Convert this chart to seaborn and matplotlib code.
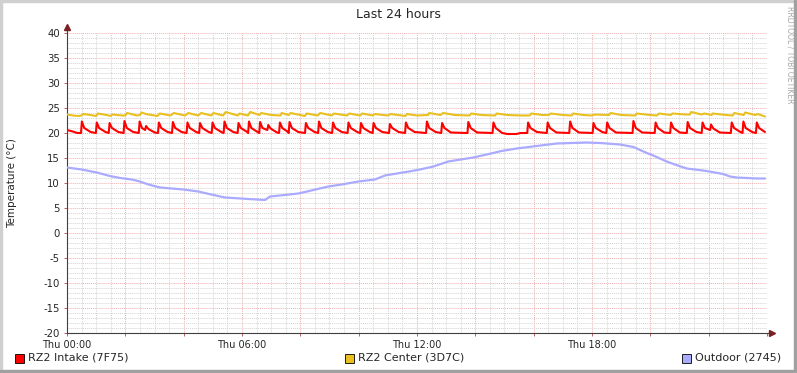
import matplotlib
matplotlib.use('Agg')
import matplotlib.pyplot as plt
import matplotlib.ticker as ticker
from matplotlib.patches import Rectangle
import pandas as pd
import seaborn as sns

# Values (hours since Thu 00:00, degrees C)
intake_hours = [0.00, 0.20, 0.35,
                0.48, 0.51, 0.59, 0.81, 0.99, 1.02, 1.10, 1.32, 1.43, 1.46, 1.54, 1.76,
                1.94, 1.97, 2.05, 2.27, 2.46, 2.49, 2.57, 2.68, 2.71, 2.79, 3.01,
                3.12, 3.15, 3.23, 3.45, 3.60, 3.63, 3.71, 3.93, 4.10, 4.13, 4.21, 4.43,
                4.53, 4.56, 4.64, 4.86, 4.96, 4.99, 5.07, 5.29, 5.37, 5.40, 5.48, 5.70,
                5.85, 5.88, 5.96, 6.18, 6.21, 6.24, 6.32, 6.54, 6.59, 6.62, 6.70, 6.87,
                6.90, 6.98, 7.20, 7.27, 7.30, 7.38, 7.58, 7.60, 7.63, 7.71, 7.93,
                8.16, 8.19, 8.27, 8.49, 8.61, 8.64, 8.72, 8.94, 9.09, 9.12, 9.20, 9.42,
                9.62, 9.65, 9.73, 9.95, 10.05, 10.08, 10.16, 10.38, 10.48, 10.51, 10.59, 10.81,
                11.04, 11.07, 11.15, 11.37, 11.59, 11.62, 11.70, 11.92,
                12.31, 12.34, 12.42, 12.64, 12.83, 12.86, 12.94, 13.16,
                13.73, 13.76, 13.84, 14.06, 14.59, 14.62, 14.70, 14.92, 15.10, 15.40, 15.55,
                15.78, 15.81, 15.89, 16.11, 16.45, 16.48, 16.56, 16.78,
                17.22, 17.25, 17.33, 17.55, 18.02, 18.05, 18.13, 18.35,
                18.49, 18.52, 18.60, 18.82, 19.39, 19.42, 19.50, 19.72,
                20.15, 20.18, 20.26, 20.48, 20.68, 20.71, 20.79, 21.01,
                21.25, 21.28, 21.36, 21.58, 21.76, 21.79, 21.87, 22.05, 22.08, 22.16, 22.38,
                22.76, 22.79, 22.87, 23.09, 23.16, 23.19, 23.27, 23.49,
                23.62, 23.65, 23.73, 23.93]
intake_temp = [20.6, 20.3, 20.0,
               20.0, 22.3, 21.0, 20.2, 20.0, 22.1, 21.0, 20.2, 20.0, 22.0, 21.0, 20.2,
               20.0, 22.4, 21.0, 20.2, 20.0, 22.3, 21.0, 20.6, 21.4, 20.8, 20.1,
               20.0, 22.1, 21.0, 20.2, 20.0, 22.2, 21.0, 20.2, 20.0, 22.1, 21.0, 20.2,
               20.0, 22.0, 21.0, 20.2, 20.0, 22.1, 21.0, 20.2, 20.0, 22.3, 21.0, 20.2,
               20.0, 22.0, 21.0, 20.2, 20.0, 22.3, 21.0, 20.2, 20.0, 22.2, 21.0, 20.6,
               21.6, 20.9, 20.1, 20.0, 22.1, 21.0, 20.2, 20.0, 22.2, 21.0, 20.2,
               20.0, 22.0, 21.0, 20.2, 20.0, 22.3, 21.0, 20.2, 20.0, 22.1, 21.0, 20.2,
               20.0, 22.1, 21.0, 20.2, 20.0, 22.0, 21.0, 20.2, 20.0, 22.0, 21.0, 20.2,
               20.0, 21.8, 21.0, 20.2, 20.0, 22.1, 21.0, 20.2,
               20.0, 22.3, 21.0, 20.2, 20.0, 22.0, 21.0, 20.1,
               20.0, 22.2, 21.0, 20.1, 20.0, 22.1, 21.0, 20.0, 19.8, 19.8, 20.0,
               20.0, 22.1, 21.0, 20.2, 20.0, 22.1, 21.0, 20.1,
               20.0, 22.3, 21.0, 20.1, 20.0, 22.0, 21.0, 20.2,
               20.0, 22.1, 21.0, 20.1, 20.0, 22.4, 21.0, 20.1,
               20.0, 22.1, 21.0, 20.1, 20.0, 22.1, 21.0, 20.1,
               20.0, 22.2, 21.0, 20.2, 20.0, 22.1, 21.0, 20.6, 21.7, 20.9, 20.1,
               20.0, 22.1, 21.0, 20.2, 20.0, 22.3, 21.0, 20.2,
               20.0, 22.1, 21.0, 20.2]

center_hours = [0.00, 0.20, 0.40, 0.50, 0.56, 0.80, 1.00, 1.06, 1.35, 1.50, 1.55, 1.90,
                2.00, 2.06, 2.40, 2.50, 2.56, 2.70, 3.10, 3.18, 3.55, 3.66, 4.05, 4.16,
                4.50, 4.60, 4.95, 5.02, 5.35, 5.44, 5.85, 5.92, 6.20, 6.28, 6.60, 6.66,
                7.00, 7.32, 7.36, 7.60, 7.67, 8.15, 8.22, 8.60, 8.68, 9.08, 9.15, 9.60,
                9.68, 10.05, 10.12, 10.48, 10.55, 11.00, 11.10, 11.60, 11.66, 12.00,
                12.38, 12.42, 12.80, 12.90, 13.30, 13.80, 13.86, 14.20, 14.68, 14.73,
                15.10, 15.60, 15.86, 15.92, 16.30, 16.52, 16.58, 17.00, 17.30, 17.36,
                17.70, 18.00, 18.10, 18.58, 18.64, 19.00, 19.48, 19.53, 20.00, 20.22,
                20.30, 20.70, 20.76, 21.20, 21.35, 21.40, 21.75, 21.85, 22.10, 22.14,
                22.60, 22.82, 22.88, 23.20, 23.25, 23.60, 23.68, 23.93]
center_temp = [23.7, 23.5, 23.4, 23.5, 23.8, 23.6, 23.4, 23.9, 23.6, 23.4, 23.7, 23.5,
               23.5, 24.0, 23.5, 23.6, 24.1, 23.8, 23.4, 23.9, 23.5, 24.0, 23.5, 24.0,
               23.5, 24.0, 23.5, 24.0, 23.5, 24.2, 23.5, 23.9, 23.5, 24.2, 23.6, 24.0,
               23.6, 23.5, 24.0, 23.6, 24.0, 23.4, 23.9, 23.5, 24.0, 23.5, 23.9, 23.5,
               23.9, 23.5, 23.9, 23.5, 23.8, 23.5, 23.8, 23.4, 23.8, 23.5,
               23.6, 24.0, 23.6, 24.0, 23.6, 23.5, 23.9, 23.6, 23.5, 23.9,
               23.6, 23.5, 23.5, 23.9, 23.6, 23.6, 23.9, 23.6, 23.5, 23.9,
               23.6, 23.5, 23.7, 23.6, 24.0, 23.6, 23.5, 23.9, 23.6, 23.5,
               23.9, 23.6, 23.9, 23.7, 23.7, 24.2, 23.7, 23.9, 23.6, 23.9,
               23.6, 23.5, 24.0, 23.6, 24.1, 23.6, 23.8, 23.3]

outdoor_hours = [0.00, 0.50, 1.02, 1.47, 1.82, 2.22, 2.50, 2.79, 3.19, 3.99, 4.50, 5.02,
                 5.42, 6.22, 6.79, 6.96, 7.47, 7.93, 8.45, 8.96, 9.42, 9.99, 10.56, 10.90,
                 11.82, 12.10, 12.56, 13.07, 13.93, 14.39, 14.90, 15.42, 16.10, 16.79,
                 17.82, 18.27, 18.96, 19.42, 19.65, 19.88, 20.10, 20.33, 20.56, 20.79,
                 21.25, 21.93, 22.50, 22.73, 22.96, 23.65, 23.93]
outdoor_temp = [13.1, 12.7, 12.1, 11.4, 11.0, 10.7, 10.3, 9.7, 9.1, 8.7, 8.3, 7.6,
                7.1, 6.8, 6.6, 7.3, 7.6, 7.9, 8.6, 9.3, 9.7, 10.3, 10.7, 11.5,
                12.4, 12.7, 13.3, 14.3, 15.1, 15.7, 16.4, 16.9, 17.4, 17.9,
                18.1, 18.0, 17.7, 17.2, 16.6, 16.0, 15.5, 14.9, 14.3, 13.8,
                12.9, 12.4, 11.8, 11.3, 11.1, 10.9, 10.9]

series_names = ['RZ2 Intake (7F75)', 'RZ2 Center (3D7C)', 'Outdoor (2745)']
series_colors = ['#ff0000', '#e9c01f', '#aaaaff']

sns.set_style('white')
plt.rcParams['font.family'] = ['DejaVu Sans']
plt.rcParams['axes.unicode_minus'] = False

W, H = 797, 373
fig = plt.figure(figsize=(W / 100, H / 100), dpi=100, facecolor='white')
ax = fig.add_axes([67 / W, 40 / H, 700 / W, 300 / H])

intake = pd.DataFrame({'hour': intake_hours, 'temp': intake_temp})
center = pd.DataFrame({'hour': center_hours, 'temp': center_temp})
outdoor = pd.DataFrame({'hour': outdoor_hours, 'temp': outdoor_temp})

sns.lineplot(ax=ax, data=intake, x='hour', y='temp', color=series_colors[0],
             linewidth=1.5, estimator=None, sort=False, zorder=5)
sns.lineplot(ax=ax, data=center, x='hour', y='temp', color=series_colors[1],
             linewidth=1.5, estimator=None, sort=False, zorder=5)
sns.lineplot(ax=ax, data=outdoor, x='hour', y='temp', color=series_colors[2],
             linewidth=1.6, estimator=None, sort=False, zorder=5)

# Axes limits and ticks
ax.set_xlim(0, 24)
ax.set_ylim(-20, 40)
ax.xaxis.set_major_locator(ticker.MultipleLocator(2))
ax.xaxis.set_minor_locator(ticker.MultipleLocator(0.5))
ax.xaxis.set_major_formatter(ticker.FuncFormatter(
    lambda v, p: f'Thu {int(round(v)):02d}:00' if round(v) % 6 == 0 and v < 23 else ''))
ax.yaxis.set_major_locator(ticker.MultipleLocator(5))
ax.yaxis.set_minor_locator(ticker.MultipleLocator(1))
ax.tick_params(axis='both', which='major', labelsize=7, length=2, width=0.7,
               color='#c06060', pad=3, bottom=True, left=True)
ax.tick_params(axis='y', which='major', labelsize=7.3)
ax.tick_params(axis='both', which='minor', length=0, bottom=True, left=True)
ax.set_xlabel('')
ax.set_ylabel('')

# Grid: grey minor, red major, dotted
ax.grid(which='minor', color='#d4d4d4', linestyle=(0, (1, 1)), linewidth=0.7, zorder=1)
ax.grid(which='major', color='#eeb0b0', linestyle=(0, (1, 1)), linewidth=0.7, zorder=2)
ax.set_axisbelow(True)

for side in ['top', 'right']:
    ax.spines[side].set_visible(False)
for side in ['left', 'bottom']:
    ax.spines[side].set_color('#404040')
    ax.spines[side].set_linewidth(0.8)

# Axis arrows
ax.plot([0, 0], [1, 1.02], transform=ax.transAxes, color='#404040', lw=0.8, clip_on=False)
ax.plot([1, 1.007], [0, 0], transform=ax.transAxes, color='#404040', lw=0.8, clip_on=False)
ax.plot(0, 1.02, marker='^', markersize=4, color='#7a2020', transform=ax.transAxes, clip_on=False)
ax.plot(1.007, 0, marker='>', markersize=4, color='#7a2020', transform=ax.transAxes, clip_on=False)

# Title and labels
fig.text(0.5, 1 - 14 / H, 'Last 24 hours', ha='center', va='center', fontsize=9)
fig.text(12 / W, 1 - 183 / H, 'Temperature (°C)', rotation=90, ha='center', va='center',
         fontsize=7.5)
fig.text(790 / W, 1 - 6 / H, 'RRDTOOL / TOBI OETIKER', rotation=270, ha='center', va='top',
         fontsize=5.5, color='#a8a8a8')

# Legend
legend_x = [15, 345, 682]
for name, col, lx in zip(series_names, series_colors, legend_x):
    fig.patches.append(Rectangle((lx / W, 1 - 363 / H), 9 / W, 9 / H, facecolor=col,
                                 edgecolor='black', linewidth=0.6, transform=fig.transFigure))
    fig.text((lx + 13) / W, 1 - 358 / H, name, ha='left', va='center', fontsize=8)

# 3D border
fig.patches.append(Rectangle((0, 1 - 2 / H), 1, 2 / H, color='#d0d0d0', transform=fig.transFigure))
fig.patches.append(Rectangle((0, 0), 2 / W, 1, color='#d0d0d0', transform=fig.transFigure))
fig.patches.append(Rectangle((0, 0), 1, 3 / H, color='#a0a0a0', transform=fig.transFigure))
fig.patches.append(Rectangle((1 - 3 / W, 0), 3 / W, 1, color='#a0a0a0', transform=fig.transFigure))

fig.savefig('out.png', dpi=100)
